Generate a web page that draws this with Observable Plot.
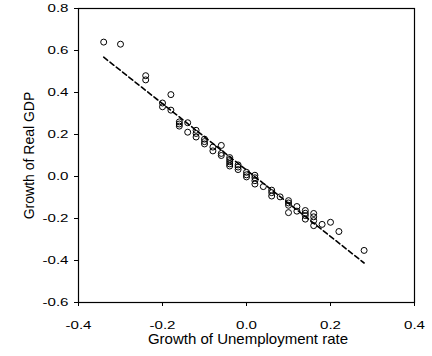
<!DOCTYPE html>
<html>
<head>
<meta charset="utf-8">
<script src="https://cdn.jsdelivr.net/npm/d3@7"></script>
<script src="https://cdn.jsdelivr.net/npm/@observablehq/plot@0.6"></script>
<style>
  body { margin: 0; background: #fff; }
</style>
</head>
<body>
<div id="chart"></div>
<script>
// Growth of the unemployment rate (x) against growth of real GDP (y)
const unempGrowth = [
  -0.34, -0.30,
  -0.24, -0.24,
  -0.20, -0.20,
  -0.18, -0.18,
  -0.16, -0.16, -0.16,
  -0.14, -0.14,
  -0.12, -0.12, -0.12,
  -0.10, -0.10, -0.10,
  -0.08, -0.08,
  -0.06, -0.06, -0.06,
  -0.04, -0.04, -0.04, -0.04, -0.04,
  -0.02, -0.02, -0.02,
  0.00, 0.00, 0.00,
  0.02, 0.02, 0.02, 0.02,
  0.04,
  0.06, 0.06, 0.06,
  0.08,
  0.10, 0.10, 0.10, 0.10,
  0.12, 0.12,
  0.14, 0.14, 0.14, 0.14,
  0.16, 0.16, 0.16, 0.16,
  0.18,
  0.20,
  0.22,
  0.28
];
const gdpGrowth = [
  0.640, 0.630,
  0.480, 0.460,
  0.350, 0.332,
  0.390, 0.316,
  0.260, 0.250, 0.240,
  0.256, 0.211,
  0.220, 0.205, 0.188,
  0.178, 0.166, 0.155,
  0.140, 0.122,
  0.148, 0.110, 0.100,
  0.090, 0.080, 0.070, 0.060, 0.050,
  0.055, 0.045, 0.033,
  0.020, 0.008, -0.002,
  0.006, -0.006, -0.020, -0.036,
  -0.048,
  -0.065, -0.077, -0.093,
  -0.097,
  -0.115, -0.126, -0.137, -0.172,
  -0.143, -0.165,
  -0.162, -0.175, -0.186, -0.203,
  -0.176, -0.192, -0.210, -0.234,
  -0.228,
  -0.218,
  -0.262,
  -0.352
];

const xTicks = [-0.4, -0.2, 0.0, 0.2, 0.4];
const yTicks = [-0.6, -0.4, -0.2, 0.0, 0.2, 0.4, 0.6, 0.8];
const xTitle = "Growth of Unemployment rate";
const yTitle = "Growth of Real GDP";

const points = unempGrowth.map((u, i) => ({u, g: gdpGrowth[i]}));
const fmt = d => d.toFixed(1);

const chart = Plot.plot({
  width: 432,
  height: 356,
  marginLeft: 78,
  marginRight: 18,
  marginTop: 8,
  marginBottom: 54,
  style: {
    fontFamily: "'Liberation Sans', Arial, sans-serif",
    fontSize: "11px",
    color: "#000",
    background: "#fff",
    overflow: "visible"
  },
  x: {domain: [-0.4, 0.4]},
  y: {domain: [-0.6, 0.8]},
  marks: [
    Plot.frame({stroke: "#000", strokeWidth: 1.2}),
    Plot.axisX(xTicks, {tickSize: 4, tickPadding: 15, tickFormat: fmt, label: null, stroke: "#000"}),
    Plot.axisY(yTicks, {tickSize: 4, tickPadding: 6, tickFormat: fmt, label: null, stroke: "#000"}),
    // least-squares fit across the observed range
    Plot.linearRegressionY(points, {
      x: "u", y: "g", ci: 0,
      stroke: "#000", strokeWidth: 1.6, strokeDasharray: "5,3"
    }),
    Plot.dot(points, {x: "u", y: "g", r: 3, stroke: "#000", strokeWidth: 1, fill: "none"}),
    Plot.text([xTitle], {frameAnchor: "bottom", textAnchor: "middle", lineAnchor: "bottom", dy: 41.5, dx: 1.5, fontSize: 15, fill: "#000"}),
    Plot.text([yTitle], {frameAnchor: "left", textAnchor: "middle", lineAnchor: "bottom", rotate: -90, dx: -45, fontSize: 14, fill: "#000"})
  ]
});

document.getElementById("chart").append(chart);

// widen tick labels horizontally to the wide face used on the axes
chart.querySelectorAll('g[aria-label="x-axis tick label"] text, g[aria-label="y-axis tick label"] text')
  .forEach(t => {
    const w = t.getComputedTextLength();
    t.setAttribute("textLength", (w * 1.37).toFixed(1));
    t.setAttribute("lengthAdjust", "spacingAndGlyphs");
  });
</script>
</body>
</html>
